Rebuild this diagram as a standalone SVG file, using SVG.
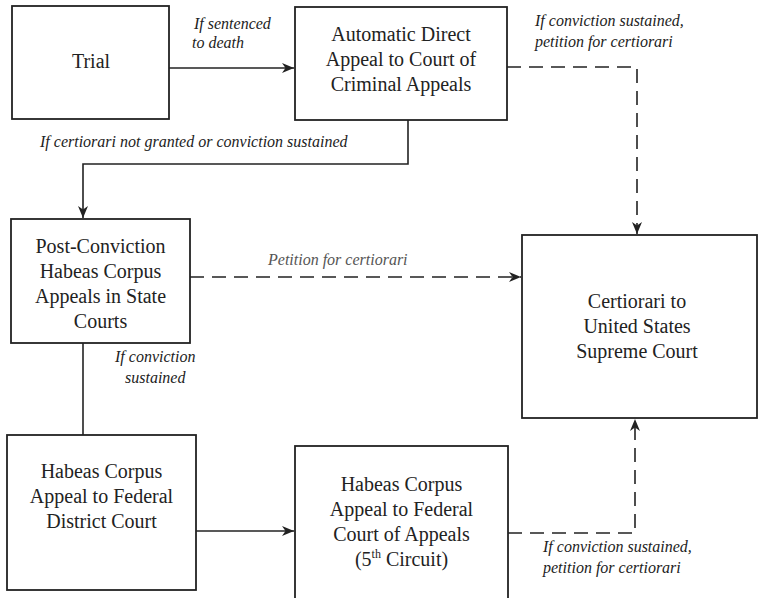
<svg xmlns="http://www.w3.org/2000/svg" width="759" height="598" viewBox="0 0 759 598">
  <style>
    .box { fill: #ffffff; stroke: #222222; stroke-width: 1.8; }
    .nt { font-size: 20px; fill: #222222; text-anchor: middle; }
    .lb { font-size: 16px; font-style: italic; fill: #222222; }
    .lbg { fill: #555555; }
    .solid { fill: none; stroke: #222222; stroke-width: 1.6; }
    .dash { fill: none; stroke: #222222; stroke-width: 1.6; stroke-dasharray: 14 8; }
  </style>
  <defs>
    <marker id="ah" markerUnits="userSpaceOnUse" markerWidth="14" markerHeight="12" refX="12" refY="5" orient="auto">
      <path d="M0,0 L12,5 L0,10 L3.5,5 Z" fill="#222222" stroke="none"/>
    </marker>
  </defs>
  <rect width="759" height="598" fill="#ffffff"/>

  <g id="connectors">
    <line class="solid" x1="169" y1="68" x2="294" y2="68" marker-end="url(#ah)"/>
    <polyline class="solid" points="408,120 408,164 83,164 83,218" marker-end="url(#ah)"/>
    <polyline class="dash" points="507,67 637,67 637,234" marker-end="url(#ah)"/>
    <line class="dash" x1="190" y1="277" x2="521" y2="277" marker-end="url(#ah)"/>
    <line class="solid" x1="83" y1="343" x2="83" y2="435"/>
    <line class="solid" x1="196" y1="531" x2="294" y2="531" marker-end="url(#ah)"/>
    <polyline class="dash" points="508,533 635,533 635,419" marker-end="url(#ah)"/>
  </g>

  <g font-family="'Liberation Serif', 'Liberation Sans', sans-serif">
  <g id="labels">
    <text class="lb" x="194" y="29">If sentenced</text>
    <text class="lb" x="192" y="48">to death</text>
    <text class="lb" x="535" y="26">If conviction sustained,</text>
    <text class="lb" x="535" y="47">petition for certiorari</text>
    <text class="lb" x="40" y="147">If certiorari not granted or conviction sustained</text>
    <text class="lb lbg" x="268" y="265">Petition for certiorari</text>
    <text class="lb" x="115" y="362">If conviction</text>
    <text class="lb" x="125" y="383">sustained</text>
    <text class="lb" x="543" y="552">If conviction sustained,</text>
    <text class="lb" x="543" y="573">petition for certiorari</text>
  </g>

  <g id="trial">
    <rect class="box" x="12" y="6" width="157" height="113"/>
    <text class="nt" x="91" y="68">Trial</text>
  </g>

  <g id="direct-appeal">
    <rect class="box" x="295" y="7" width="212" height="113"/>
    <text class="nt" x="401" y="41">Automatic Direct</text>
    <text class="nt" x="401" y="66">Appeal to Court of</text>
    <text class="nt" x="401" y="91">Criminal Appeals</text>
  </g>

  <g id="post-conviction">
    <rect class="box" x="11" y="219" width="179" height="124"/>
    <text class="nt" x="100.5" y="253">Post-Conviction</text>
    <text class="nt" x="100.5" y="278">Habeas Corpus</text>
    <text class="nt" x="100.5" y="303">Appeals in State</text>
    <text class="nt" x="100.5" y="328">Courts</text>
  </g>

  <g id="supreme-court">
    <rect class="box" x="522" y="235" width="235" height="183"/>
    <text class="nt" x="637" y="308">Certiorari to</text>
    <text class="nt" x="637" y="333">United States</text>
    <text class="nt" x="637" y="358">Supreme Court</text>
  </g>

  <g id="district-court">
    <rect class="box" x="7" y="435" width="189" height="155"/>
    <text class="nt" x="101.5" y="478">Habeas Corpus</text>
    <text class="nt" x="101.5" y="503">Appeal to Federal</text>
    <text class="nt" x="101.5" y="528">District Court</text>
  </g>

  <g id="court-of-appeals">
    <rect class="box" x="295" y="446" width="213" height="160"/>
    <text class="nt" x="401.5" y="491">Habeas Corpus</text>
    <text class="nt" x="401.5" y="516">Appeal to Federal</text>
    <text class="nt" x="401.5" y="541">Court of Appeals</text>
    <text class="nt" x="401.5" y="566">(5<tspan font-size="12" dy="-8">th</tspan><tspan dy="8"> Circuit)</tspan></text>
  </g>
  </g>
</svg>
